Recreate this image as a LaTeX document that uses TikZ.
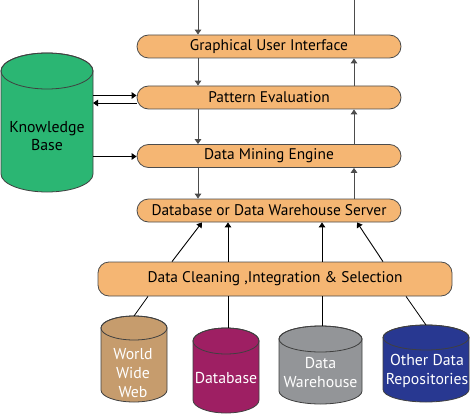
\documentclass[tikz,border=0pt]{standalone}
\usepackage{fontspec}
\setmainfont{PT Sans}
\usetikzlibrary{arrows.meta,calc}
\definecolor{boxfill}{HTML}{F5B673}
\definecolor{kbgreen}{HTML}{2BB673}
\definecolor{wwwbrown}{HTML}{C69C6D}
\definecolor{dbmag}{HTML}{9E1F63}
\definecolor{dwgray}{HTML}{939598}
\definecolor{odrblue}{HTML}{283891}
\newcommand\mycyl[6]{% a, b, ytop, ybot, ry, colour
  \pgfmathsetmacro\cylcx{(#1+#2)/2}%
  \pgfmathsetmacro\cylrx{(#2-#1)/2}%
  \path[fill=#6, draw=black!75, line width=0.8pt]
    (#1,#3+#5) -- (#1,#4-#5)
    arc[start angle=180, end angle=0, x radius=\cylrx, y radius=#5]
    -- (#2,#3+#5)
    arc[start angle=0, end angle=-180, x radius=\cylrx, y radius=#5] -- cycle;
  \draw[black!75, line width=0.8pt] (\cylcx,#3+#5) ellipse[x radius=\cylrx, y radius=#5];
}
\begin{document}
\begin{tikzpicture}[x=1pt, y=-1pt,
  layerbox/.style={draw=black!70, line width=0.8pt, fill=boxfill, rounded corners=11.5pt,
    minimum height=23pt, minimum width=264pt, inner sep=0pt, font=\fontsize{15.4}{17}\selectfont},
  arr/.style={-{Triangle[width=6.5pt,length=5pt]}, line width=0.9pt},
  gline/.style={black!70},
  cyltext/.style={text=white, align=center, font=\fontsize{15.8}{19}\selectfont, inner sep=0pt},
  hold/.style={inner sep=0pt, outer sep=0pt}
]
\useasboundingbox (0,0) rectangle (470,414);

% layer boxes
\node[layerbox] (gui) at (269,46.5) {Graphical User Interface};
\node[layerbox] (pe) at (269,97.5) {Pattern Evaluation};
\node[layerbox] (dme) at (269,156) {Data Mining Engine};
\node[layerbox] (dbs) at (269,210.5) {Database or Data Warehouse Server};
\node[layerbox, minimum width=354pt, minimum height=34pt, rounded corners=11pt] (clean) at (275,279)
  {Data Cleaning ,Integration \& Selection};

% vertical flow
\coordinate (topL) at (198,0);
\coordinate (topR) at (354,0);
\draw[arr, gline] (topL) -- (topL |- gui.north);
\draw[arr, gline] (gui.south -| topL) -- (pe.north -| topL);
\draw[arr, gline] (pe.south -| topL) -- (dme.north -| topL);
\draw[arr, gline] (dme.south -| topL) -- (dbs.north -| topL);
\draw[arr, gline] (dbs.north -| topR) -- (dme.south -| topR);
\draw[arr, gline] (dme.north -| topR) -- (pe.south -| topR);
\draw[arr, gline] (pe.north -| topR) -- (gui.south -| topR);
\draw[gline, line width=0.9pt] (gui.north -| topR) -- (topR);

% knowledge base
\mycyl{1}{93}{53}{192}{18}{kbgreen}
\node[hold, minimum width=92pt, minimum height=139pt] (kb) at (47,122.5) {};
\node[align=center, font=\fontsize{15.8}{18.5}\selectfont, inner sep=0pt] (kbtext) at (47,136) {Knowledge\\Base};
\draw[arr] (kb.east |- 0,95.5) -- (pe.west |- 0,95.5);
\draw[arr] (pe.west |- 0,103) -- (kb.east |- 0,103);
\draw[arr] (kb.east |- 0,156.5) -- (dme.west |- 0,156.5);

% sources
\mycyl{101}{167}{316}{402}{12}{wwwbrown}
\node[hold, minimum width=66pt, minimum height=86pt] (www) at (134,359) {};
\node[cyltext] (wwwtext) at (133,373) {World\\Wide\\Web};

\mycyl{193}{259}{328}{413}{13}{dbmag}
\node[hold, minimum width=66pt, minimum height=85pt] (db) at (226,370.5) {};
\node[cyltext] (dbtext) at (226,378) {Database};

\mycyl{279}{362}{326}{404}{13}{dwgray}
\node[hold, minimum width=83pt, minimum height=78pt] (dw) at (320.5,365) {};
\node[cyltext] (dwtext) at (320.5,372.5) {Data\\Warehouse};

\mycyl{383}{469}{325}{402}{12.5}{odrblue}
\node[hold, minimum width=86pt, minimum height=77pt] (odr) at (426,363.5) {};
\node[cyltext] (odrtext) at (427,371) {Other Data\\Repositories};

% sources to cleaning
\draw[line width=0.8pt] (www.north) -- ([xshift=-127pt]clean.south);
\draw[line width=0.8pt] (db.north -| 228,0) -- (clean.south -| 228,0);
\draw[line width=0.8pt] (dw.north -| 322,0) -- (clean.south -| 322,0);
\draw[line width=0.8pt] (odr.north) -- ([xshift=131pt]clean.south);

% cleaning to server
\draw[arr] ([xshift=-103pt]clean.north) -- ([xshift=-67pt]dbs.south);
\draw[arr] (clean.north -| 228,0) -- (dbs.south -| 228,0);
\draw[arr] (clean.north -| 322,0) -- (dbs.south -| 322,0);
\draw[arr] ([xshift=108pt]clean.north) -- ([xshift=88pt]dbs.south);
\end{tikzpicture}
\end{document}
